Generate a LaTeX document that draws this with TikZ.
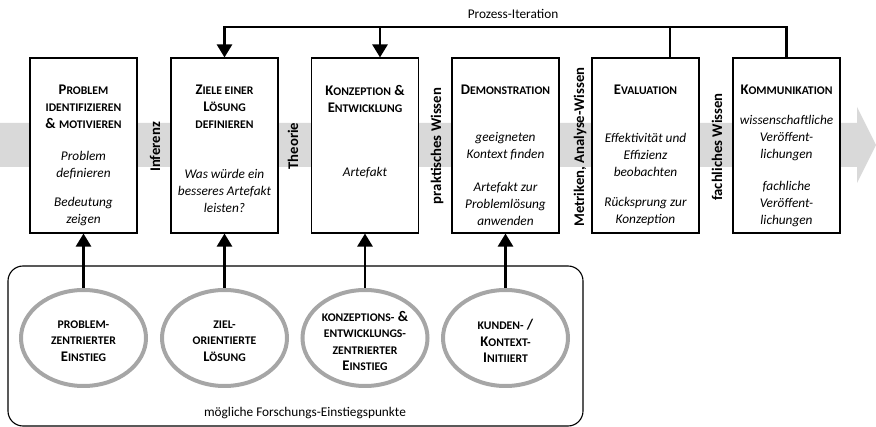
\documentclass[tikz,border=0pt]{standalone}
\usepackage{fontspec}
\setmainfont{Carlito}
\usetikzlibrary{arrows.meta,shapes.geometric,calc}
\definecolor{bandgray}{HTML}{D9D9D9}
\definecolor{ringgray}{HTML}{A6A6A6}
\newcommand\Sm[1]{{\fontsize{11.7}{17}\selectfont #1}}
\tikzset{
 phasebox/.style={draw=black,line width=1.1pt,minimum width=107pt,minimum height=175pt,inner sep=0pt,fill=white},
 ttl/.style={align=center,inner sep=0pt,font=\bfseries\fontsize{14.7}{17}\selectfont},
 bdy/.style={align=center,inner sep=0pt,font=\itshape\fontsize{13.3}{17}\selectfont},
 side/.style={rotate=90,inner sep=0pt,font=\bfseries\fontsize{14.7}{17}\selectfont},
 entry/.style={ellipse,draw=ringgray,line width=4pt,minimum width=125pt,minimum height=96pt,inner sep=0pt},
 etxt/.style={align=center,inner sep=0pt,font=\bfseries\fontsize{14.7}{16.5}\selectfont},
 conn/.style={line width=2.6pt,-{Triangle[width=15pt,length=13pt]}},
 plain/.style={line width=2.6pt},
 lbl/.style={inner sep=0pt,font=\fontsize{13.3}{16}\selectfont},
 pool/.style={draw=black,line width=1.1pt,rounded corners=15pt,minimum width=575pt,minimum height=160pt,inner sep=0pt},
}
\begin{document}
\begin{tikzpicture}[x=1pt,y=-1pt]
\useasboundingbox (0,0) rectangle (876,427);
% big gray arrow
\fill[bandgray] (0,123) -- (857,123) -- (857,107) -- (876,145) -- (857,183) -- (857,167) -- (0,167) -- cycle;
% phase boxes
\node[phasebox] (b1) at (83.5,145.5) {};
\node[phasebox] (b2) at (224.5,145.5) {};
\node[phasebox] (b3) at (365,145.5) {};
\node[phasebox] (b4) at (505.5,145.5) {};
\node[phasebox] (b5) at (645.5,145.5) {};
\node[phasebox] (b6) at (786.5,145.5) {};
% titles
\node[ttl] (h1) at (83.5,107) {P\Sm{ROBLEM}\\\Sm{IDENTIFIZIEREN}\\\& \Sm{MOTIVIEREN}};
\node[ttl] (h2) at (224.5,107) {Z\Sm{IELE EINER}\\L\Sm{ÖSUNG}\\\Sm{DEFINIEREN}};
\node[ttl] (h3) at (365,98.5) {K\Sm{ONZEPTION} \&\\E\Sm{NTWICKLUNG}};
\node[ttl] (h4) at (505.5,90) {D\Sm{EMONSTRATION}};
\node[ttl] (h5) at (645.5,90) {E\Sm{VALUATION}};
\node[ttl] (h6) at (786.5,90) {K\Sm{OMMUNIKATION}};
% bodies
\node[bdy] (p1a) at (83.5,165.5) {Problem\\definieren};
\node[bdy] (p1b) at (83.5,211.5) {Bedeutung\\zeigen};
\node[bdy] (p2a) at (224.5,191) {Was würde ein\\besseres Artefakt\\leisten?};
\node[bdy] (p3a) at (365,173) {Artefakt};
\node[bdy] (p4a) at (505.5,146) {geeigneten\\Kontext finden};
\node[bdy] (p4b) at (505.5,204) {Artefakt zur\\Problemlösung\\anwenden};
\node[bdy] (p5a) at (645.5,155) {Effektivität und\\Effizienz\\beobachten};
\node[bdy] (p5b) at (645.5,211.5) {Rücksprung zur\\Konzeption};
\node[bdy] (p6a) at (786.5,138.5) {wissenschaftliche\\Veröffent-\\lichungen};
\node[bdy] (p6b) at (786.5,204) {fachliche\\Veröffent-\\lichungen};
% side labels
\node[side] (s1) at (155,147) {Inferenz};
\node[side] (s2) at (293,146) {Theorie};
\node[side] (s3) at (437,146) {praktisches Wissen};
\node[side] (s4) at (580,147) {Metriken, Analyse-Wissen};
\node[side] (s5) at (717,147) {fachliches Wissen};
% process iteration
\coordinate (t2) at (224.5,27);
\coordinate (t3) at (380,27);
\coordinate (t5) at (670,27);
\coordinate (t6) at (786.5,27);
\node[lbl] (it) at (513,14) {Prozess-Iteration};
\draw[conn] (b6.north) -- (t6) -- (t2) -- (b2.north);
\draw[conn] (t3) -- (b3.north -| t3);
\draw[plain] (t5) -- (b5.north -| t5);
% entry points
\node[pool] (pl) at (295.5,346) {};
\node[lbl] (pt) at (305,413) {mögliche Forschungs-Einstiegspunkte};
\node[entry] (e1) at (83.5,338) {};
\node[entry] (e2) at (224.5,338) {};
\node[entry] (e3) at (365,338) {};
\node[entry] (e4) at (505.5,338) {};
\node[etxt] (x1) at (83.5,341) {\Sm{PROBLEM-}\\\Sm{ZENTRIERTER}\\E\Sm{INSTIEG}};
\node[etxt] (x2) at (224.5,341) {\Sm{ZIEL-}\\\Sm{ORIENTIERTE}\\L\Sm{ÖSUNG}};
\node[etxt] (x3) at (365,341) {\Sm{KONZEPTIONS-} \&\\\Sm{ENTWICKLUNGS-}\\\Sm{ZENTRIERTER}\\E\Sm{INSTIEG}};
\node[etxt] (x4) at (505.5,341) {\Sm{KUNDEN-} /\\K\Sm{ONTEXT-}\\I\Sm{NITIIERT}};
\draw[conn] (e1.north) -- (b1.south);
\draw[conn] (e2.north) -- (b2.south);
\draw[conn] (e3.north) -- (b3.south);
\draw[conn] (e4.north) -- (b4.south);
\end{tikzpicture}
\end{document}
